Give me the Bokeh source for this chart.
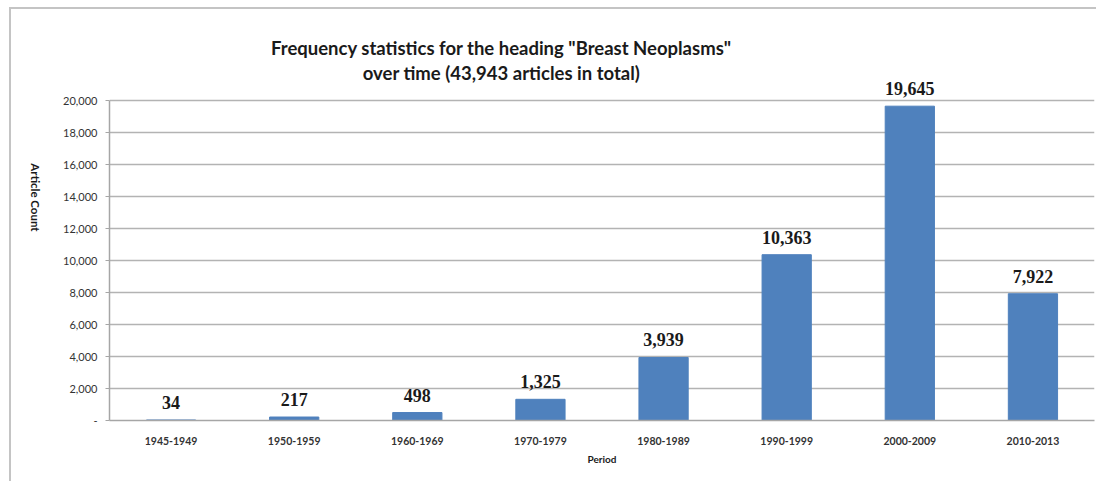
import math
from bokeh.plotting import figure
from bokeh.layouts import row
from bokeh.models import ColumnDataSource, Label, CustomJSTickFormatter, FixedTicker, Range1d
from bokeh.embed import file_html
from bokeh.resources import INLINE

periods = ["1945-1949", "1950-1959", "1960-1969", "1970-1979", "1980-1989", "1990-1999", "2000-2009", "2010-2013"]
counts = [34, 217, 498, 1325, 3939, 10363, 19645, 7922]
count_labels = ["34", "217", "498", "1,325", "3,939", "10,363", "19,645", "7,922"]
y_ticks = [0, 2000, 4000, 6000, 8000, 10000, 12000, 14000, 16000, 18000, 20000]
title_lines = ['Frequency statistics for the heading "Breast Neoplasms"', "over time (43,943 articles in total)"]
y_title = "Article Count"
x_title = "Period"

src = ColumnDataSource(dict(period=periods, count=counts, label=count_labels))
GRAY = "#c4c4c4"

# left strip: holds the vertical axis title
q = figure(width=60, height=481, x_range=Range1d(0, 1), y_range=Range1d(0, 1),
           output_backend="svg", toolbar_location=None, x_axis_location=None, y_axis_location=None,
           min_border_left=0, min_border_right=0, min_border_top=0, min_border_bottom=0)
q.grid.visible = False
q.outline_line_color = None
q.border_fill_color = None
q.background_fill_color = None
q.styles = {"background": f"linear-gradient({GRAY},{GRAY}) 9px 7px / 2px 474px no-repeat, "
                          f"linear-gradient({GRAY},{GRAY}) 9px 7px / 60px 2px no-repeat, white"}
q.add_layout(Label(x=35, y=481 - 258, x_units="screen", y_units="screen", text=y_title, angle=-math.pi / 2,
                   text_align="center", text_baseline="middle", text_font="Lato", text_font_style="bold",
                   text_font_size="11.5px", text_color="#1a1a1a"))

# main chart: frame covers screen y 0..420 (so titles/labels above 20,000 are not clipped); 320 px = 20,000
p = figure(x_range=periods, y_range=Range1d(0, 26250), width=1036, height=481,
           output_backend="svg", toolbar_location=None,
           min_border_left=48, min_border_right=2, min_border_top=0, min_border_bottom=61)
p.border_fill_color = None
p.background_fill_color = None
p.styles = {"background": f"linear-gradient({GRAY},{GRAY}) 0px 7px / 1036px 2px no-repeat, white"}
p.vbar(x="period", top="count", width=0.4, source=src, color="#4f81bd")

# categorical factor i sits at synthetic coordinate i + 0.5
for i, (cnt, lab) in enumerate(zip(counts, count_labels)):
    p.add_layout(Label(x=i + 0.5, y=cnt, text=lab, text_align="center", text_baseline="bottom", y_offset=11,
                       text_font="Liberation Serif", text_font_style="bold", text_font_size="18px",
                       text_color="#1a1a1a"))

p.outline_line_color = None
p.xgrid.grid_line_color = None
p.ygrid.grid_line_color = "#b3b3b3"
p.ygrid.grid_line_width = 1.5
p.yaxis.ticker = FixedTicker(ticks=y_ticks)
p.yaxis.bounds = (0, 20000)
p.yaxis.formatter = CustomJSTickFormatter(code="return tick == 0 ? '-' : tick.toLocaleString('en-US');")
for ax in (p.xaxis[0], p.yaxis[0]):
    ax.axis_line_color = "#a6a6a6"
    ax.axis_line_width = 1.5
    ax.major_tick_line_color = "#a6a6a6"
    ax.minor_tick_line_color = None
    ax.major_label_text_font = "Lato"
    ax.major_label_text_color = "#333333"
    ax.axis_label_text_font = "Lato"
    ax.axis_label_text_font_style = "bold"
    ax.axis_label_text_color = "#1a1a1a"
p.xaxis.axis_label_text_font_size = "10px"
p.yaxis.major_tick_in = 0
p.yaxis.major_tick_out = 4
p.yaxis.major_label_text_font_size = "11px"
p.xaxis.major_tick_line_color = None
p.xaxis.major_label_text_font_size = "10.5px"
p.xaxis.major_label_text_font_style = "bold"
p.xaxis.axis_label = x_title
p.xaxis.major_label_standoff = 10
p.yaxis.major_label_standoff = 8

# screen units are relative to the frame's bottom-left corner (frame: page x 108..1094, y 0..420)
for i, line in enumerate(title_lines):
    p.add_layout(Label(x=500 - 108, y=420 - (47 + 25 * i), x_units="screen", y_units="screen", text=line,
                       text_align="center", text_baseline="alphabetic", text_font="Lato",
                       text_font_style="bold", text_font_size="18.5px", text_color="#1a1a1a"))

layout = row(q, p, spacing=0)
open("out.html", "w").write(file_html(layout, INLINE))
